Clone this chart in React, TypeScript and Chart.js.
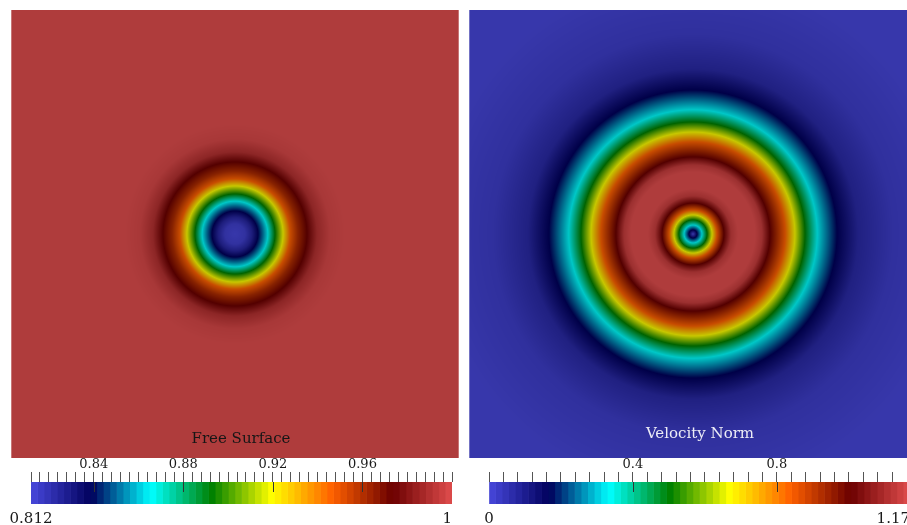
import React, { useEffect, useRef } from "react";
import { Chart, registerables } from "chart.js";

Chart.register(...registerables);
Chart.defaults.font.family = '"DejaVu Serif", serif';

// ParaView "Rainbow Desaturated" colour map stops
const CMAP_POS = [0, 0.143, 0.285, 0.429, 0.571, 0.714, 0.857, 1.0];
const CMAP_R = [71, 0, 0, 0, 255, 255, 107, 224];
const CMAP_G = [71, 0, 255, 128, 255, 97, 0, 77];
const CMAP_B = [219, 92, 255, 0, 0, 0, 0, 77];

// Free Surface: radial profile (radius in domain units, panel half-width = 1)
const FS_RADIUS = [0, 0.045, 0.076, 0.103, 0.125, 0.147, 0.179, 0.214, 0.246, 0.281, 0.321, 0.366, 0.424, 0.491, 1.5];
const FS_VALUE = [0.812, 0.815, 0.825, 0.839, 0.852, 0.866, 0.893, 0.919, 0.946, 0.961, 0.973, 0.99, 0.998, 1.0, 1.0];
const FS_MIN = 0.812;
const FS_MAX = 1.0;
const FS_STEP = 0.004;
const FS_MAJOR = [0.84, 0.88, 0.92, 0.96];

// Velocity Norm: radial profile
const VN_RADIUS = [0, 0.018, 0.04, 0.063, 0.085, 0.107, 0.138, 0.17, 0.201, 0.277, 0.308, 0.344, 0.411, 0.455, 0.5, 0.554, 0.643, 0.737, 0.893, 1.161, 1.5];
const VN_VALUE = [0, 0.167, 0.335, 0.502, 0.668, 0.835, 1.003, 1.135, 1.17, 1.17, 1.135, 1.003, 0.835, 0.668, 0.502, 0.335, 0.167, 0.07, 0.023, 0, 0];
const VN_MIN = 0;
const VN_MAX = 1.17;
const VN_STEP = 0.04;
const VN_MAJOR = [0.4, 0.8];

const N_BANDS = 64;
const SHADE = 0.78;

function cmap(t: number): number[] {
  const x = Math.max(0, Math.min(1, t));
  for (let i = 0; i < CMAP_POS.length - 1; i++) {
    if (x <= CMAP_POS[i + 1]) {
      const f = (x - CMAP_POS[i]) / (CMAP_POS[i + 1] - CMAP_POS[i]);
      return [
        CMAP_R[i] + (CMAP_R[i + 1] - CMAP_R[i]) * f,
        CMAP_G[i] + (CMAP_G[i + 1] - CMAP_G[i]) * f,
        CMAP_B[i] + (CMAP_B[i + 1] - CMAP_B[i]) * f,
      ];
    }
  }
  const n = CMAP_POS.length - 1;
  return [CMAP_R[n], CMAP_G[n], CMAP_B[n]];
}

function radial(r: number, R: number[], V: number[]): number {
  if (r <= R[0]) return V[0];
  for (let i = 0; i < R.length - 1; i++) {
    if (r <= R[i + 1]) {
      const f = (r - R[i]) / (R[i + 1] - R[i]);
      return V[i] + (V[i + 1] - V[i]) * f;
    }
  }
  return V[V.length - 1];
}

type FieldProps = {
  left: number;
  radius: number[];
  values: number[];
  vmin: number;
  vmax: number;
  title: string;
  titleColor: string;
  titleX: number;
  titleY: number;
};

function FieldPanel(p: FieldProps) {
  const ref = useRef<HTMLCanvasElement>(null);
  useEffect(() => {
    const plugin = {
      id: "radialField",
      beforeDatasetsDraw(chart: any) {
        const { ctx, chartArea: a, scales } = chart;
        const w = Math.round(a.right - a.left);
        const h = Math.round(a.bottom - a.top);
        const off = document.createElement("canvas");
        off.width = w;
        off.height = h;
        const octx = off.getContext("2d")!;
        const img = octx.createImageData(w, h);
        const xs = new Float64Array(w);
        const ys = new Float64Array(h);
        for (let i = 0; i < w; i++) xs[i] = scales.x.getValueForPixel(a.left + i + 0.5);
        for (let j = 0; j < h; j++) ys[j] = scales.y.getValueForPixel(a.top + j + 0.5);
        const span = p.vmax - p.vmin;
        const d = img.data;
        for (let j = 0; j < h; j++) {
          for (let i = 0; i < w; i++) {
            const r = Math.hypot(xs[i], ys[j]);
            const v = radial(r, p.radius, p.values);
            const c = cmap((v - p.vmin) / span);
            const k = (j * w + i) * 4;
            d[k] = c[0] * SHADE;
            d[k + 1] = c[1] * SHADE;
            d[k + 2] = c[2] * SHADE;
            d[k + 3] = 255;
          }
        }
        octx.putImageData(img, 0, 0);
        ctx.drawImage(off, a.left, a.top);
        ctx.save();
        ctx.fillStyle = "rgba(255,255,255,0.3)";
        ctx.fillRect(a.left, a.top, 1, h);
        ctx.fillRect(a.right - 1, a.top, 1, h);
        ctx.restore();
      },
      afterDraw(chart: any) {
        const { ctx } = chart;
        ctx.save();
        ctx.font = '15px "DejaVu Serif", serif';
        ctx.fillStyle = p.titleColor;
        ctx.textAlign = "center";
        ctx.textBaseline = "alphabetic";
        ctx.fillText(p.title, p.titleX, p.titleY);
        ctx.restore();
      },
    };
    const chart = new Chart(ref.current!, {
      type: "scatter",
      data: { datasets: [{ data: [], pointRadius: 0 }] },
      options: {
        animation: false,
        responsive: false,
        maintainAspectRatio: false,
        layout: { padding: 0 },
        scales: {
          x: { type: "linear", min: -1, max: 1, display: false },
          y: { type: "linear", min: -1, max: 1, display: false },
        },
        plugins: { legend: { display: false }, tooltip: { enabled: false } },
      },
      plugins: [plugin],
    } as any);
    return () => chart.destroy();
  }, []);
  return (
    <canvas
      ref={ref}
      width={448}
      height={448}
      style={{ position: "absolute", left: p.left, top: 10, width: 448, height: 448 }}
    />
  );
}

type BarProps = {
  left: number;
  vmin: number;
  vmax: number;
  step: number;
  major: number[];
  minLabel: string;
  maxLabel: string;
};

function ColorBar(p: BarProps) {
  const ref = useRef<HTMLCanvasElement>(null);
  useEffect(() => {
    const bw = (p.vmax - p.vmin) / N_BANDS;
    const datasets: any[] = [];
    for (let i = 0; i < N_BANDS; i++) {
      const lo = p.vmin + i * bw;
      const hi = lo + bw;
      const c = cmap((i + 0.5) / N_BANDS);
      datasets.push({
        data: [[lo, hi]],
        backgroundColor: `rgb(${Math.round(c[0])},${Math.round(c[1])},${Math.round(c[2])})`,
        borderWidth: 0,
        barPercentage: 1,
        categoryPercentage: 1,
        grouped: false,
      });
    }
    const findMajor = (v: number) => p.major.find((m) => Math.abs(m - v) < 1e-9);
    const plugin = {
      id: "cbExtras",
      afterDatasetsDraw(chart: any) {
        const { ctx, chartArea: a, scales } = chart;
        ctx.save();
        ctx.strokeStyle = "#333";
        ctx.lineWidth = 1;
        for (const m of p.major) {
          const x = Math.round(scales.x.getPixelForValue(m)) + 0.5;
          ctx.beginPath();
          ctx.moveTo(x, a.top);
          ctx.lineTo(x, a.top + 10);
          ctx.stroke();
        }
        ctx.restore();
      },
      afterDraw(chart: any) {
        const { ctx, scales } = chart;
        ctx.save();
        ctx.font = '15px "DejaVu Serif", serif';
        ctx.fillStyle = "#1a1a1a";
        ctx.textBaseline = "alphabetic";
        ctx.textAlign = "center";
        ctx.fillText(p.minLabel, scales.x.getPixelForValue(p.vmin), 68);
        ctx.textAlign = "right";
        ctx.fillText(p.maxLabel, scales.x.getPixelForValue(p.vmax), 68);
        ctx.restore();
      },
    };
    const chart = new Chart(ref.current!, {
      type: "bar",
      data: { labels: ["bar"], datasets },
      options: {
        indexAxis: "y",
        animation: false,
        responsive: false,
        maintainAspectRatio: false,
        layout: { padding: { left: 31, right: 8, top: 0, bottom: 21 } },
        scales: {
          x: {
            type: "linear",
            position: "top",
            min: p.vmin,
            max: p.vmax,
            beginAtZero: false,
            border: { display: false },
            grid: {
              display: true,
              drawOnChartArea: false,
              drawTicks: true,
              tickLength: 10,
              tickColor: "#555",
              tickWidth: 1,
            },
            ticks: {
              stepSize: p.step,
              autoSkip: false,
              maxRotation: 0,
              padding: 0,
              color: "#1a1a1a",
              font: { family: '"DejaVu Serif", serif', size: 13 },
              callback: (v: any) => {
                const m = findMajor(Number(v));
                return m === undefined ? "" : String(m);
              },
            },
            afterFit: (s: any) => {
              s.height = 27;
            },
          },
          y: { display: false },
        },
        plugins: { legend: { display: false }, tooltip: { enabled: false } },
      },
      plugins: [plugin],
    } as any);
    return () => chart.destroy();
  }, []);
  return (
    <canvas
      ref={ref}
      width={460}
      height={70}
      style={{ position: "absolute", left: p.left, top: 455, width: 460, height: 70 }}
    />
  );
}

export default function App() {
  return (
    <div
      style={{
        position: "fixed",
        left: 0,
        top: 0,
        width: 907,
        height: 525,
        overflow: "hidden",
        background: "#fff",
      }}
    >
      <FieldPanel
        left={11}
        radius={FS_RADIUS}
        values={FS_VALUE}
        vmin={FS_MIN}
        vmax={FS_MAX}
        title="Free Surface"
        titleColor="#161616"
        titleX={230}
        titleY={433}
      />
      <FieldPanel
        left={469}
        radius={VN_RADIUS}
        values={VN_VALUE}
        vmin={VN_MIN}
        vmax={VN_MAX}
        title="Velocity Norm"
        titleColor="#ececf6"
        titleX={231}
        titleY={428}
      />
      <ColorBar left={0} vmin={FS_MIN} vmax={FS_MAX} step={FS_STEP} major={FS_MAJOR} minLabel="0.812" maxLabel="1" />
      <ColorBar left={458} vmin={VN_MIN} vmax={VN_MAX} step={VN_STEP} major={VN_MAJOR} minLabel="0" maxLabel="1.17" />
    </div>
  );
}
